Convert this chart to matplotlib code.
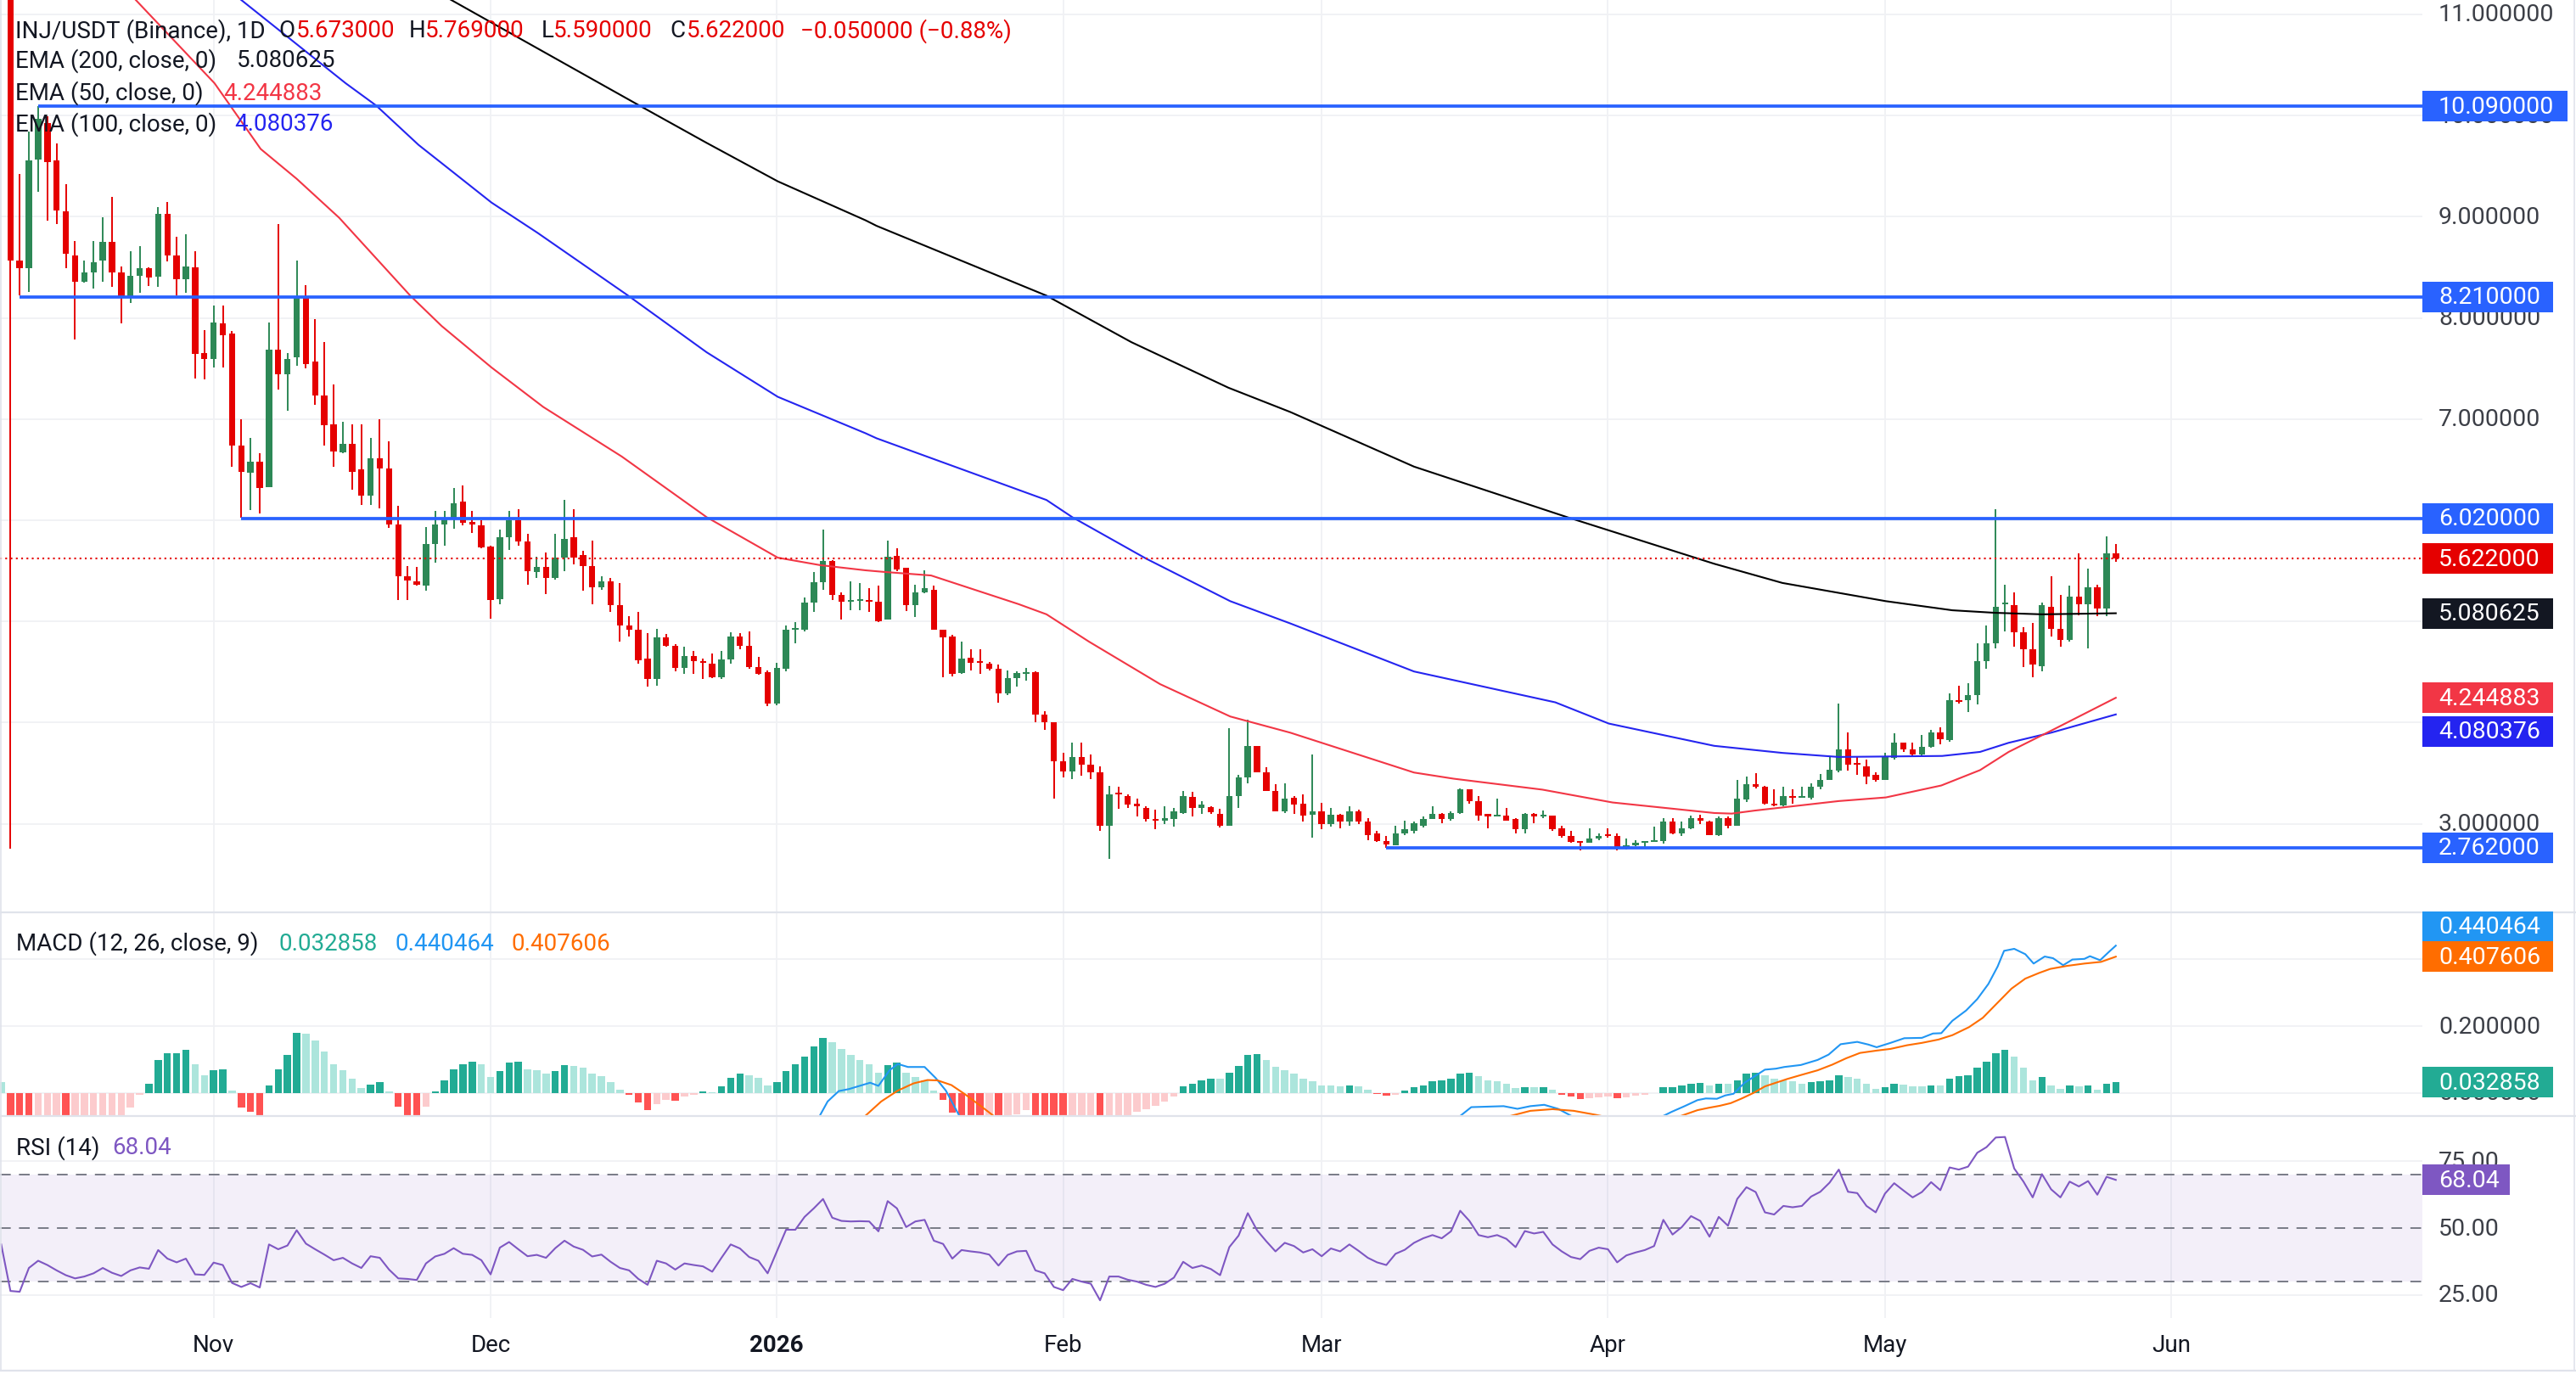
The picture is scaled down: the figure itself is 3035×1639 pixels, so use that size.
import numpy as np
import pandas as pd
import matplotlib
matplotlib.use("Agg")
import matplotlib.pyplot as plt
from matplotlib.patches import Rectangle
from matplotlib.lines import Line2D

plt.rcParams['font.family'] = ['Roboto', 'DejaVu Sans']

# ===============================
# Data (daily INJ/USDT, 2025-10-10 .. 2026-05-26)
# ===============================
start = pd.Timestamp('2025-10-10')

open_ = [12.0, 8.565, 8.493, 9.564, 9.923, 9.554, 9.052, 8.616, 8.355, 8.447,
         8.565, 8.749, 8.447, 8.206, 8.416, 8.493, 8.411, 9.026, 8.621, 8.385,
         8.498, 7.653, 7.591, 7.945, 7.847, 6.735, 6.469, 6.581, 6.325, 7.688,
         7.442, 7.607, 8.211, 7.571, 7.232, 6.95, 6.669, 6.751, 6.5, 6.243,
         6.612, 6.515, 5.956, 5.443, 5.392, 5.351, 5.761, 5.956, 6.018, 6.182,
         5.982, 5.951, 5.736, 5.223, 5.833, 6.003, 5.787, 5.49, 5.541, 5.433,
         5.633, 5.833, 5.659, 5.546, 5.341, 5.392, 5.162, 4.962, 4.916, 4.634,
         4.429, 4.839, 4.762, 4.541, 4.659, 4.608, 4.582, 4.444, 4.623, 4.854,
         4.762, 4.546, 4.495, 4.188, 4.531, 4.916, 4.916, 5.182, 5.387, 5.597,
         5.259, 5.198, 5.203, 5.208, 5.198, 5.018, 5.649, 5.531, 5.162, 5.285,
         5.315, 4.916, 4.849, 4.49, 4.644, 4.608, 4.582, 4.531, 4.285, 4.439,
         4.485, 4.495, 4.08, 4.003, 3.619, 3.516, 3.66, 3.583, 3.506, 2.978,
         3.311, 3.275, 3.198, 3.157, 3.045, 3.03, 3.045, 3.106, 3.265, 3.157,
         3.162, 3.096, 2.983, 3.275, 3.455, 3.772, 3.506, 3.326, 3.122, 3.26,
         3.198, 3.086, 3.122, 2.993, 3.086, 3.019, 3.122, 3.019, 2.906, 2.83,
         2.789, 2.901, 2.932, 2.983, 3.045, 3.096, 3.045, 3.106, 3.337, 3.224,
         3.086, 3.07, 3.081, 3.045, 2.942, 3.096, 3.07, 3.081, 2.952, 2.876,
         2.824, 2.809, 2.85, 2.891, 2.881, 2.758, 2.789, 2.809, 2.824, 2.83,
         3.019, 2.901, 2.952, 3.055, 3.019, 2.891, 3.055, 2.983, 3.24, 3.393,
         3.367, 3.198, 3.183, 3.275, 3.26, 3.26, 3.367, 3.429, 3.522, 3.737,
         3.593, 3.568, 3.48, 3.429, 3.65, 3.803, 3.737, 3.685, 3.762, 3.906,
         3.823, 4.224, 4.224, 4.275, 4.608, 4.787, 5.167, 5.162, 4.89, 4.726,
         4.557, 5.146, 4.926, 4.813, 5.249, 5.172, 5.341, 5.131, 5.673]
high = [12.1, 9.42, 9.84, 10.09, 9.99, 9.723, 9.318, 8.76, 8.565, 8.76,
        8.995, 9.196, 8.51, 8.657, 8.71, 8.503, 9.093, 9.144, 8.806, 8.826,
        8.657, 7.878, 8.119, 8.119, 7.873, 7.0, 6.812, 6.663, 7.955, 8.924,
        7.653, 8.57, 8.324, 7.991, 7.76, 7.34, 6.976, 6.95, 6.95, 6.812,
        7.0, 6.776, 6.141, 5.546, 5.535, 5.93, 6.089, 6.089, 6.315, 6.346,
        6.089, 6.003, 5.746, 5.905, 6.089, 6.11, 5.864, 5.643, 5.679, 5.864,
        6.2, 6.11, 5.695, 5.802, 5.443, 5.428, 5.377, 5.054, 5.095, 4.88,
        4.926, 4.874, 4.772, 4.751, 4.71, 4.634, 4.685, 4.71, 4.89, 4.88,
        4.905, 4.649, 4.516, 4.593, 4.957, 4.993, 5.233, 5.49, 5.905, 5.608,
        5.29, 5.392, 5.377, 5.326, 5.351, 5.802, 5.725, 5.531, 5.361, 5.505,
        5.351, 4.916, 4.864, 4.798, 4.726, 4.726, 4.598, 4.572, 4.516, 4.505,
        4.541, 4.505, 4.111, 4.003, 3.7, 3.803, 3.803, 3.685, 3.568, 3.378,
        3.362, 3.291, 3.25, 3.173, 3.137, 3.173, 3.157, 3.326, 3.316, 3.224,
        3.173, 3.147, 3.942, 3.48, 4.028, 3.772, 3.557, 3.393, 3.403, 3.275,
        3.291, 3.685, 3.209, 3.157, 3.096, 3.173, 3.137, 3.055, 2.927, 2.881,
        2.983, 3.034, 3.019, 3.07, 3.173, 3.106, 3.122, 3.352, 3.337, 3.275,
        3.086, 3.25, 3.157, 3.055, 3.106, 3.106, 3.132, 3.081, 2.983, 2.927,
        2.824, 2.952, 2.901, 2.957, 2.901, 2.85, 2.84, 2.824, 2.968, 3.055,
        3.055, 3.019, 3.081, 3.086, 3.03, 3.07, 3.07, 3.429, 3.465, 3.496,
        3.378, 3.342, 3.362, 3.342, 3.367, 3.403, 3.491, 3.66, 4.188, 3.906,
        3.66, 3.634, 3.506, 3.7, 3.89, 3.803, 3.803, 3.875, 3.926, 3.957,
        4.29, 4.367, 4.393, 4.787, 4.957, 6.11, 5.362, 5.285, 4.941, 4.982,
        5.182, 5.444, 5.259, 5.351, 5.669, 5.521, 5.362, 5.838, 5.769]
low = [2.75, 8.22, 8.26, 9.247, 8.965, 8.929, 8.493, 7.786, 8.345, 8.293,
       8.36, 8.303, 7.95, 8.15, 8.25, 8.314, 8.303, 8.555, 8.22, 8.247,
       7.4, 7.391, 7.509, 7.509, 6.53, 6.028, 6.1, 6.069, 6.325, 7.289,
       7.079, 7.53, 7.5, 7.145, 6.735, 6.53, 6.663, 6.3, 6.15, 6.15,
       6.12, 5.925, 5.208, 5.208, 5.351, 5.3, 5.577, 5.746, 5.915, 5.951,
       5.874, 5.72, 5.028, 5.172, 5.71, 5.751, 5.361, 5.428, 5.274, 5.413,
       5.495, 5.567, 5.3, 5.172, 5.31, 5.095, 4.803, 4.849, 4.582, 4.352,
       4.367, 4.752, 4.505, 4.48, 4.48, 4.429, 4.44, 4.429, 4.582, 4.721,
       4.531, 4.475, 4.162, 4.172, 4.505, 4.787, 4.905, 5.095, 5.315, 5.213,
       5.018, 5.11, 5.11, 5.095, 4.993, 5.018, 5.495, 5.105, 5.044, 5.28,
       4.916, 4.444, 4.454, 4.48, 4.516, 4.48, 4.516, 4.198, 4.275, 4.352,
       4.418, 4.0, 3.926, 3.25, 3.455, 3.44, 3.475, 3.44, 2.927, 2.65,
       3.147, 3.157, 3.07, 3.019, 2.942, 2.993, 2.968, 3.096, 3.07, 3.096,
       3.096, 2.963, 2.983, 3.157, 3.403, 3.506, 3.326, 3.122, 3.106, 3.096,
       3.019, 2.865, 2.942, 2.968, 2.957, 2.983, 2.993, 2.84, 2.819, 2.763,
       2.789, 2.891, 2.901, 2.963, 3.045, 3.009, 3.034, 3.096, 3.198, 3.034,
       2.957, 3.07, 3.03, 2.906, 2.906, 3.004, 3.055, 2.927, 2.865, 2.814,
       2.737, 2.809, 2.84, 2.865, 2.737, 2.748, 2.778, 2.763, 2.824, 2.804,
       2.896, 2.881, 2.942, 2.993, 2.891, 2.881, 2.952, 2.983, 3.214, 3.352,
       3.188, 3.173, 3.173, 3.198, 3.26, 3.24, 3.342, 3.429, 3.506, 3.522,
       3.48, 3.393, 3.414, 3.429, 3.634, 3.711, 3.675, 3.675, 3.752, 3.788,
       3.813, 4.188, 4.106, 4.183, 4.531, 4.736, 4.905, 4.751, 4.547, 4.444,
       4.505, 4.849, 4.751, 4.803, 5.059, 4.736, 5.054, 5.054, 5.59]
close = [8.57, 8.493, 9.554, 9.964, 9.539, 9.062, 8.632, 8.36, 8.447, 8.549,
         8.749, 8.447, 8.206, 8.416, 8.488, 8.396, 9.026, 8.621, 8.385, 8.508,
         7.648, 7.591, 7.955, 7.832, 6.735, 6.479, 6.581, 6.32, 7.683, 7.442,
         7.596, 8.196, 7.54, 7.232, 6.94, 6.679, 6.756, 6.479, 6.243, 6.612,
         6.515, 5.956, 5.443, 5.402, 5.362, 5.761, 5.956, 6.028, 6.17, 5.977,
         5.956, 5.73, 5.213, 5.833, 6.003, 5.787, 5.495, 5.541, 5.433, 5.633,
         5.812, 5.633, 5.546, 5.341, 5.392, 5.162, 4.957, 4.921, 4.618, 4.429,
         4.839, 4.762, 4.541, 4.659, 4.608, 4.593, 4.444, 4.623, 4.854, 4.762,
         4.546, 4.485, 4.188, 4.541, 4.916, 4.926, 5.182, 5.387, 5.597, 5.259,
         5.198, 5.21, 5.213, 5.198, 5.003, 5.643, 5.515, 5.162, 5.285, 5.326,
         4.916, 4.839, 4.48, 4.634, 4.593, 4.593, 4.531, 4.285, 4.439, 4.49,
         4.495, 4.08, 4.003, 3.619, 3.516, 3.66, 3.583, 3.506, 2.978, 3.286,
         3.291, 3.188, 3.173, 3.045, 3.03, 3.055, 3.122, 3.275, 3.157, 3.188,
         3.111, 2.983, 3.275, 3.455, 3.772, 3.506, 3.326, 3.122, 3.25, 3.188,
         3.081, 3.122, 2.993, 3.086, 3.019, 3.122, 3.019, 2.891, 2.83, 2.799,
         2.901, 2.942, 3.004, 3.045, 3.096, 3.045, 3.106, 3.337, 3.224, 3.081,
         3.076, 3.081, 3.03, 2.942, 3.096, 3.076, 3.081, 2.942, 2.881, 2.824,
         2.809, 2.85, 2.876, 2.876, 2.753, 2.789, 2.814, 2.824, 2.84, 3.019,
         2.906, 2.952, 3.055, 3.034, 2.891, 3.055, 2.983, 3.25, 3.393, 3.362,
         3.198, 3.183, 3.275, 3.26, 3.275, 3.367, 3.429, 3.532, 3.737, 3.583,
         3.583, 3.47, 3.429, 3.66, 3.803, 3.737, 3.685, 3.762, 3.906, 3.839,
         4.224, 4.208, 4.275, 4.608, 4.787, 5.146, 5.182, 4.89, 4.726, 4.572,
         5.157, 4.926, 4.813, 5.249, 5.172, 5.341, 5.131, 5.672, 5.622]

# EMA lines (day offset from 2025-10-10, value)
ema200_x = [47.6, 63.8, 68.1, 75.4, 83.1, 92.6, 93.8, 112.2, 121.4, 131.9,
            138.6, 152.0, 168.6, 184.5, 191.9, 203.1, 210.3, 214.9, 220.0, 228.0]
ema200_y = [11.15, 10.32, 10.10, 9.73, 9.35, 8.965, 8.91, 8.22, 7.76, 7.31,
            7.07, 6.53, 6.03, 5.57, 5.38, 5.20, 5.11, 5.085, 5.07, 5.0806]
ema100_x = [24.9, 36.3, 39.6, 44.2, 46.7, 52.1, 57.1, 66.9, 75.4, 83.1,
            92.6, 93.8, 112.2, 115.0, 123.0, 132.1, 138.6, 152.0, 167.3, 173.1,
            184.5, 191.9, 198.0, 209.2, 213.3, 216.4, 221.0, 228.0]
ema100_y = [11.15, 10.32, 10.10, 9.71, 9.53, 9.14, 8.84, 8.22, 7.66, 7.22,
            6.86, 6.81, 6.20, 6.03, 5.62, 5.20, 4.98, 4.505, 4.20, 3.99,
            3.77, 3.70, 3.66, 3.67, 3.71, 3.80, 3.90, 4.0804]
ema50_x = [13.5, 22.1, 27.1, 31.0, 35.6, 40.5, 43.3, 46.7, 52.1, 57.7,
           66.2, 75.4, 83.1, 87.7, 92.6, 94.5, 99.7, 109.2, 112.2, 116.8,
           124.5, 132.1, 138.6, 152.0, 156.3, 165.9, 173.5, 184.5, 186.4, 188.9,
           198.0, 203.1, 209.1, 213.3, 216.4, 221.0, 228.0]
ema50_y = [11.15, 10.32, 9.67, 9.375, 8.99, 8.50, 8.22, 7.92, 7.51, 7.12,
           6.63, 6.03, 5.63, 5.556, 5.505, 5.49, 5.454, 5.17, 5.07, 4.80,
           4.38, 4.06, 3.90, 3.506, 3.445, 3.337, 3.21, 3.106, 3.10, 3.13,
           3.224, 3.26, 3.378, 3.53, 3.71, 3.92, 4.2449]

# horizontal levels (value, first day offset)
level_vals = [10.09, 8.21, 6.02, 2.762]
level_start = [3, 1, 25, 149]

# indicators: 2025-10-09 .. 2026-05-26
macd_hist = [0.033,
             -0.12, -0.16, -0.19, -0.18, -0.17, -0.15, -0.155, -0.14, -0.13, -0.12, -0.10, -0.09, -0.075, -0.044, -0.004,
             0.029, 0.098, 0.118, 0.119, 0.128, 0.085, 0.054, 0.0675, 0.07, 0.0066, -0.044, -0.056, -0.075, 0.0216, 0.07,
             0.113, 0.179, 0.178, 0.157, 0.123, 0.085, 0.0675, 0.042, 0.014, 0.026, 0.032, 0.004, -0.04, -0.075, -0.085,
             -0.04, 0.004, 0.037, 0.072, 0.085, 0.093, 0.085, 0.047, 0.065, 0.09, 0.093, 0.07, 0.0675, 0.057, 0.065,
             0.0825, 0.082, 0.075, 0.057, 0.05, 0.032, 0.009, -0.006, -0.028, -0.052, -0.034, -0.021, -0.023, -0.011, -0.006,
             0.004, 0.003, 0.02, 0.045, 0.057, 0.052, 0.045, 0.022, 0.032, 0.065, 0.085, 0.11, 0.139, 0.164, 0.151, 0.133,
             0.115, 0.10, 0.085, 0.062, 0.0825, 0.09, 0.062, 0.047, 0.037, 0.0066, -0.021, -0.059, -0.08, -0.095, -0.11,
             -0.10, -0.11, -0.068, -0.063, -0.05, -0.08, -0.09, -0.10, -0.11, -0.10, -0.09, -0.085, -0.09, -0.085, -0.08,
             -0.075, -0.056, -0.049, -0.039, -0.025, -0.009, 0.02, 0.028, 0.039, 0.044, 0.042, 0.06, 0.08, 0.115, 0.1155,
             0.10, 0.078, 0.0675, 0.057, 0.042, 0.035, 0.024, 0.0216, 0.02, 0.0216, 0.02, 0.009, -0.003, -0.008, -0.004,
             0.0066, 0.017, 0.024, 0.035, 0.037, 0.042, 0.057, 0.06, 0.05, 0.039, 0.035, 0.027, 0.016, 0.0175, 0.0168,
             0.017, 0.009, -0.006, -0.011, -0.019, -0.016, -0.013, -0.011, -0.016, -0.013, -0.008, -0.006, -0.001, 0.017, 0.018, 0.0216, 0.028,
             0.030, 0.024, 0.029, 0.027, 0.039, 0.057, 0.062, 0.052, 0.042, 0.039, 0.035, 0.029, 0.032, 0.035, 0.039,
             0.052, 0.047, 0.042, 0.027, 0.012, 0.017, 0.027, 0.0265, 0.02, 0.0196, 0.024, 0.0216, 0.042, 0.05, 0.054,
             0.075, 0.093, 0.118, 0.128, 0.108, 0.075, 0.039, 0.047, 0.024, 0.012, 0.0216, 0.0196, 0.024, 0.009, 0.027, 0.032858]

rsi = [43.9,
       26.5, 26.2, 35.1, 37.8, 36.2, 34.2, 32.4, 31.2, 31.9, 33.1, 35.1, 33.3, 32.1, 34.2, 35.3,
       34.8, 41.8, 38.6, 37.2, 38.6, 32.7, 32.5, 37.1, 36.2, 29.5, 28.0, 29.4, 27.8, 43.9, 42.1,
       43.5, 49.2, 44.2, 42.1, 40.1, 38.0, 38.9, 36.8, 35.1, 39.5, 38.9, 34.5, 31.2, 31.0, 30.6,
       36.8, 39.4, 40.4, 42.5, 40.4, 40.0, 38.0, 32.7, 42.7, 44.8, 42.1, 39.5, 40.0, 38.9, 42.5,
       45.3, 43.1, 41.9, 39.4, 40.1, 37.4, 35.1, 34.2, 31.0, 28.8, 37.8, 36.8, 34.5, 36.8, 36.2,
       35.7, 33.7, 38.9, 43.9, 42.4, 39.2, 37.8, 33.1, 41.3, 49.4, 49.4, 54.2, 57.4, 60.9, 53.9, 52.7,
       52.5, 52.6, 52.5, 48.8, 60.1, 57.4, 50.4, 52.5, 53.1, 45.3, 44.1, 38.6, 41.8, 41.3, 40.9,
       40.1, 36.0, 40.0, 41.3, 41.5, 34.2, 33.1, 28.0, 26.8, 31.0, 30.0, 29.2, 23.0, 31.9, 31.9,
       30.7, 30.0, 28.8, 28.0, 29.2, 31.5, 37.4, 35.1, 36.0, 34.7, 32.4, 42.9, 47.2, 55.6, 49.2,
       45.1, 41.3, 44.5, 43.3, 40.9, 42.1, 39.5, 42.4, 41.3, 43.9, 41.5, 38.9, 37.2, 36.2, 40.4,
       41.9, 44.5, 46.2, 47.4, 46.2, 48.8, 56.5, 52.7, 47.4, 46.6, 47.4, 46.0, 42.9, 48.9, 48.0,
       48.6, 43.9, 41.3, 39.2, 38.4, 41.5, 42.7, 42.1, 37.2, 39.8, 40.9, 41.8, 43.3, 53.1, 47.6, 50.4, 54.5,
       52.7, 46.8, 54.2, 50.9, 60.9, 65.3, 63.5, 55.9, 55.1, 58.3, 57.8, 58.3, 61.8, 63.6, 67.0,
       71.9, 63.6, 63.1, 58.3, 55.9, 62.9, 66.8, 64.1, 61.5, 63.5, 67.2, 64.2, 72.7, 71.9, 73.0,
       78.2, 80.3, 83.9, 84.1, 72.3, 67.4, 61.5, 70.2, 64.5, 61.5, 67.4, 65.6, 67.6, 62.5, 69.2, 68.04]

# MACD / signal lines (day offset, value); nan = hidden below the pane
macd_x = [87.5, 88.5, 89.7, 90.8, 93.1, 94.0, 95.2, 96.1, 97.2, 99.0, 100.2, 101.3, 102.9, np.nan,
          156.7, 158.2, 161.7, 163.2, 164.6, 166.1, 167.6, 169.5, np.nan,
          178.5, 179.9, 181.3, 182.7, 183.6, 184.8, 185.7, 186.6, 187.8, 189.1, 190.0, 191.2, 192.1,
          193.9, 195.7, 196.9, 198.2, 200.0, 201.2, 202.1, 203.6, 205.1, 207.0, 208.2, 209.1, 210.3,
          211.8, 213.0, 214.2, 215.2, 215.9, 217.0, 218.2, 219.1, 220.3, 221.2, 222.3, 223.3, 224.6,
          225.2, 226.3, 227.3, 228.0]
macd_y = [-0.075, -0.025, 0.006, 0.012, 0.031, 0.0216, 0.068, 0.087, 0.078, 0.078, 0.045, 0.0075, -0.075, np.nan,
          -0.075, -0.042, -0.039, -0.047, -0.039, -0.035, -0.047, -0.075, np.nan,
          -0.075, -0.056, -0.039, -0.021, -0.016, -0.017, -0.007, -0.002, 0.031, 0.054, 0.07, 0.073, 0.078,
          0.084, 0.099, 0.115, 0.146, 0.153, 0.145, 0.137, 0.15, 0.164, 0.165, 0.178, 0.179, 0.216,
          0.247, 0.281, 0.326, 0.378, 0.425, 0.431, 0.415, 0.387, 0.408, 0.403, 0.382, 0.399, 0.401,
          0.409, 0.397, 0.423, 0.4405]
signal_x = [92.3, 94.3, 96.1, 97.8, 99.3, 100.4, 101.9, 103.4, 105.1, 106.8, np.nan,
            161.5, 164.6, 167.0, 169.3, 171.7, 173.4, np.nan,
            180.2, 182.7, 183.9, 185.1, 186.3, 187.5, 188.8, 190.0, 191.2, 192.4, 193.9, 195.7, 197.3,
            198.8, 200.3, 202.1, 203.6, 205.4, 207.0, 208.8, 210.3, 212.1, 213.6, 215.2, 216.7, 218.2,
            219.7, 220.9, 222.7, 224.6, 226.4, 228.0]
signal_y = [-0.075, -0.025, 0.0075, 0.029, 0.039, 0.038, 0.024, -0.004, -0.039, -0.075, np.nan,
            -0.075, -0.053, -0.048, -0.053, -0.065, -0.075, np.nan,
            -0.075, -0.051, -0.044, -0.038, -0.03, -0.016, 0.001, 0.02, 0.031, 0.042, 0.054, 0.068, 0.085,
            0.104, 0.12, 0.127, 0.132, 0.143, 0.15, 0.16, 0.173, 0.197, 0.225, 0.27, 0.312, 0.342,
            0.359, 0.371, 0.38, 0.387, 0.392, 0.4076]

month_labels = ['Nov', 'Dec', '2026', 'Feb', 'Mar', 'Apr', 'May', 'Jun']
month_starts = pd.date_range('2025-11-01', '2026-06-01', freq='MS')

# right-scale tick values that are not hidden behind a value tag
price_ticks = [3, 7, 8, 9, 10, 11]
macd_ticks = [0, 0.2]
rsi_ticks = [25, 50, 75]

# ===============================
# Figure / panes
# ===============================
W, H = 3035, 1640
PLOT_R = 2854
TXT = '#131722'
GRID = '#f0f1f4'

fig = plt.figure(figsize=(W / 100, H / 100), dpi=100)
fig.patch.set_facecolor('white')


def fx(px):
    return px / W


def fy(py):
    return 1 - py / H


ax = fig.add_axes([0, fy(1076), fx(PLOT_R), 1076 / H])
ax_m = fig.add_axes([0, fy(1315.6), fx(PLOT_R), (1315.6 - 1076) / H])
ax_r = fig.add_axes([0, fy(1554), fx(PLOT_R), (1554 - 1315.6) / H])

XL = (-1.13, 261.2)
for a in (ax, ax_m, ax_r):
    a.set_xlim(*XL)
    a.set_axis_off()
ax.set_ylim(2.124, 11.151)
ax_m.set_ylim(-0.0675, 0.540)
ax_r.set_ylim(16.38, 92.06)

x = np.arange(len(close))
ind_x = (pd.date_range('2025-10-09', '2026-05-26') - start).days.values
month_pos = (month_starts - start).days.values

# grids
for a in (ax, ax_m, ax_r):
    for m in month_pos:
        a.axvline(m, color=GRID, lw=1.3, zorder=0)
for v in range(3, 12):
    ax.axhline(v, color=GRID, lw=1.3, zorder=0)
for v in (0, 0.2, 0.4):
    ax_m.axhline(v, color=GRID, lw=1.3, zorder=0)
for v in (25, 75):
    ax_r.axhline(v, color=GRID, lw=1.3, zorder=0)

# --- candles ---
o = np.array(open_)
h = np.array(high)
l = np.array(low)
c = np.array(close)
cols = np.where(c >= o, '#2d8856', '#e50000')
ax.vlines(x, l, h, colors=cols, lw=1.4, zorder=2)
ax.bar(x, np.maximum(np.abs(c - o), 0.017), bottom=np.minimum(o, c), width=0.68,
       color=cols, zorder=2.5)

# --- EMAs ---
ax.plot(ema200_x, ema200_y, color='#000000', lw=1.5, zorder=3)
ax.plot(ema100_x, ema100_y, color='#2525f0', lw=1.5, zorder=3)
ax.plot(ema50_x, ema50_y, color='#f23645', lw=1.5, zorder=3)

# --- levels ---
for v, s in zip(level_vals, level_start):
    ax.hlines(v, s, XL[1], color='#2962ff', lw=2.7, zorder=4)
ax.axhline(close[-1], color='#e50000', lw=1.5, ls=(0, (1, 2)), zorder=4)

# --- MACD ---
hist = np.array(macd_hist)
prev = np.concatenate([[hist[0]], hist[:-1]])
hcols = np.where(hist >= 0,
                 np.where(hist > prev, '#22ab94', '#ace5dc'),
                 np.where(hist < prev, '#ff5252', '#fccbcd'))
ax_m.bar(ind_x, hist, width=0.78, color=hcols, zorder=2)
ax_m.plot(macd_x, macd_y, color='#2196f3', lw=1.5, zorder=3)
ax_m.plot(signal_x, signal_y, color='#ff6d00', lw=1.5, zorder=3)

# --- RSI ---
ax_r.axhspan(30, 70, color='#7e57c2', alpha=0.09, lw=0, zorder=0)
for v in (30, 50, 70):
    ax_r.axhline(v, color='#787b86', lw=1.4, ls=(0, (6.5, 5)), zorder=1)
ax_r.plot(ind_x, rsi, color='#7e57c2', lw=1.5, zorder=3)

# ===============================
# Right scale labels
# ===============================
def ypix(a, v):
    return a.transData.transform((0, v))[1]


def tick(a, v, text):
    fig.text(fx(2873), ypix(a, v) / H, text, color='#3c3f47', fontsize=20.5,
             ha='left', va='center', zorder=5)


def tag(a, v, text, color, width=154):
    yp = ypix(a, v)
    fig.add_artist(Rectangle((fx(2854), (yp - 18) / H), width / W, 36 / H,
                             transform=fig.transFigure, facecolor=color,
                             edgecolor='none', zorder=10))
    fig.text(fx(2873), yp / H, text, color='white', fontsize=20.5,
             ha='left', va='center', zorder=11)


for v in price_ticks:
    tick(ax, v, f'{v:.6f}')
for v in macd_ticks:
    tick(ax_m, v, f'{v:.6f}')
for v in rsi_ticks:
    tick(ax_r, v, f'{v:.2f}')

tag(ax, 10.09, '10.090000', '#2962ff', 171)
tag(ax, 8.21, '8.210000', '#2962ff')
tag(ax, 6.02, '6.020000', '#2962ff')
tag(ax, 5.622, '5.622000', '#e50000')
tag(ax, 5.080625, '5.080625', '#131722')
tag(ax, 4.244883, '4.244883', '#f23645')
tag(ax, 3.911, '4.080376', '#2424f0')
tag(ax, 2.762, '2.762000', '#2962ff')
tag(ax_m, 0.497, '0.440464', '#2196f3')
tag(ax_m, 0.4076, '0.407606', '#ff6d00')
tag(ax_m, 0.0329, '0.032858', '#22ab94')
tag(ax_r, 68.04, '68.04', '#7e57c2', 103)

# ===============================
# Legends
# ===============================
FS = 20


def t(px, py, s, color=TXT, **kw):
    fig.text(fx(px), fy(py), s, color=color, fontsize=FS, ha='left', va='center', zorder=12, **kw)


RED = '#e50000'
t(17.5, 36.7, 'INJ/USDT (Binance), 1D')
t(328, 36.7, 'O')
t(349, 36.7, '5.673000', RED)
t(481.5, 36.7, 'H')
t(500.6, 36.7, '5.769000', RED)
t(638, 36.7, 'L')
t(652, 36.7, '5.590000', RED)
t(789, 36.7, 'C')
t(809, 36.7, '5.622000', RED)
t(943, 36.7, '\u22120.050000 (\u22120.88%)', RED)
t(17.5, 71.7, 'EMA (200, close, 0)')
t(279, 71.7, '5.080625', '#131722')
t(17.5, 110, 'EMA (50, close, 0)')
t(263, 110, '4.244883', '#f23645')
t(17.5, 146.7, 'EMA (100, close, 0)')
t(276.6, 146.7, '4.080376', '#2424f0')

t(19, 1112, 'MACD (12, 26, close, 9)')
t(328, 1112, '0.032858', '#22ab94')
t(465.6, 1112, '0.440464', '#2196f3')
t(602.7, 1112, '0.407606', '#ff6d00')

t(19, 1352.6, 'RSI (14)')
t(132, 1352.6, '68.04', '#7e57c2')

# time axis
for m, lab in zip(month_pos, month_labels):
    xp = ax_r.transData.transform((m, 0))[0]
    fig.text(xp / W, fy(1586), lab, color=TXT, fontsize=20, ha='center', va='center',
             fontweight='bold' if lab == '2026' else 'normal')

# pane separators / borders
for py in (1076, 1315.6, 1615.6):
    fig.add_artist(Line2D([0, 1], [fy(py), fy(py)], transform=fig.transFigure,
                          color='#e0e3eb', lw=1.6, zorder=9))
fig.add_artist(Line2D([fx(1), fx(1)], [fy(1615.6), 1], transform=fig.transFigure,
                      color='#e0e3eb', lw=1.2, zorder=9))
fig.add_artist(Line2D([fx(3033), fx(3033)], [fy(1615.6), 1], transform=fig.transFigure,
                      color='#e0e3eb', lw=1.2, zorder=9))

fig.savefig('out.png', dpi=100, facecolor='white')
print('saved out.png')
